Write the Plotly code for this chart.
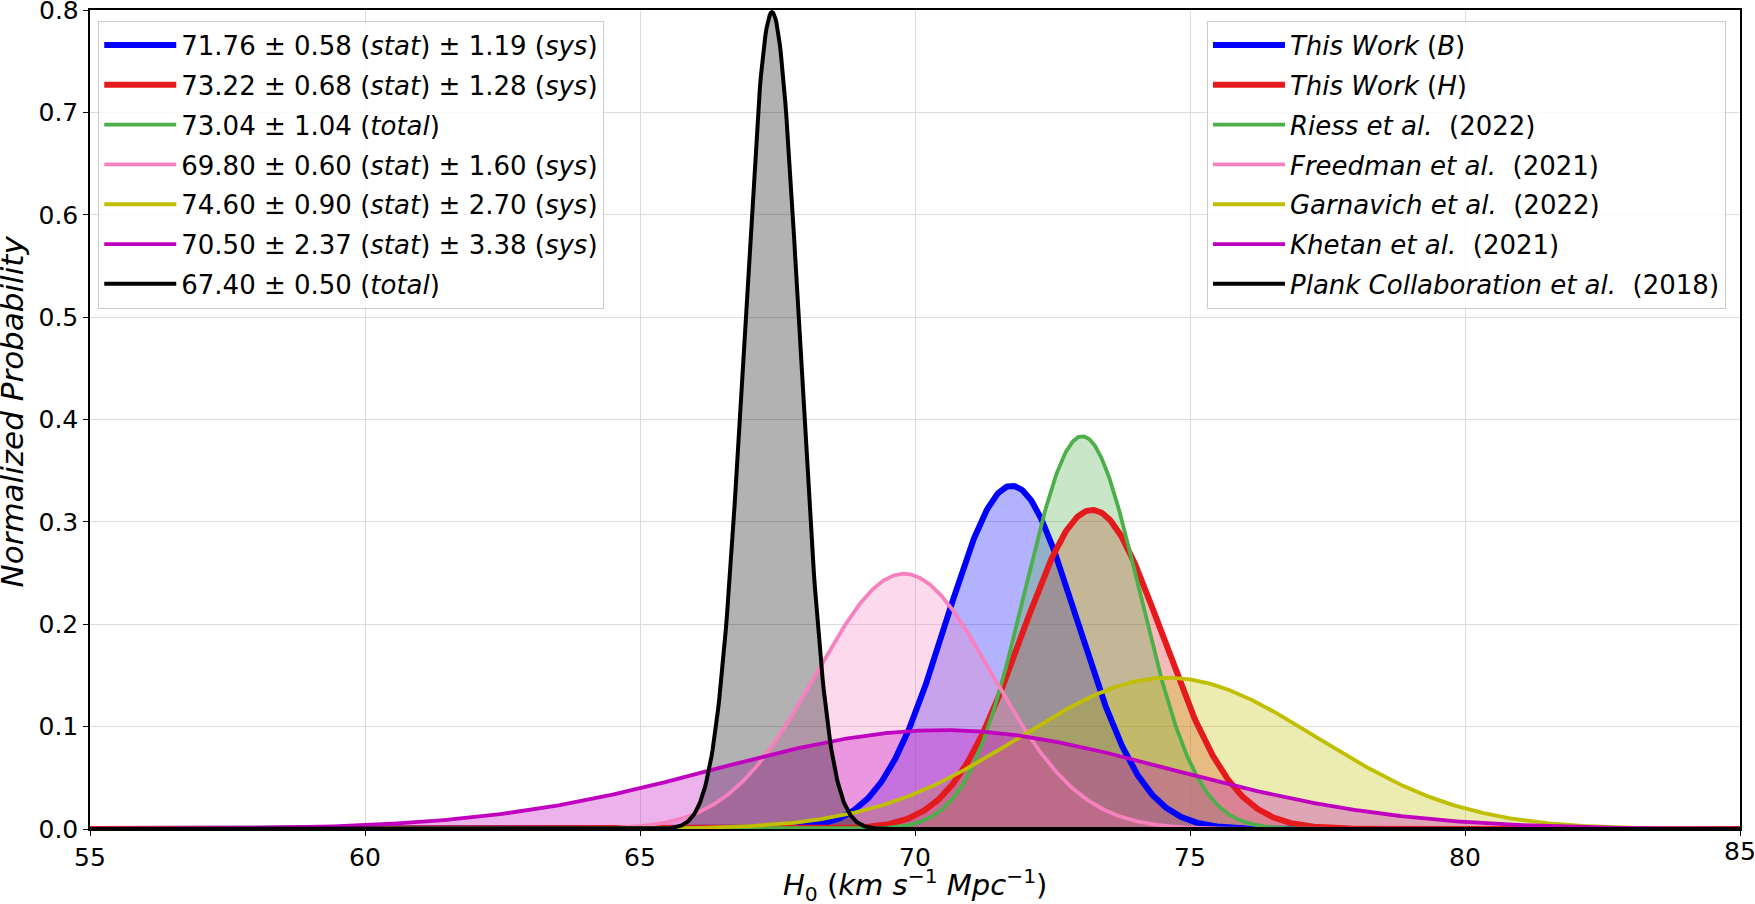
import numpy as np
import plotly.graph_objects as go

# Data
means = [71.76, 73.22, 73.04, 69.80, 74.60, 70.50, 67.40]
widths = [1.19, 1.28, 1.04, 1.60, 2.70, 4.13, 0.50]  # sigma used for each curve
value_labels = [
    "71.76 ± 0.58 (<i>stat</i>) ± 1.19 (<i>sys</i>)",
    "73.22 ± 0.68 (<i>stat</i>) ± 1.28 (<i>sys</i>)",
    "73.04 ± 1.04 (<i>total</i>)",
    "69.80 ± 0.60 (<i>stat</i>) ± 1.60 (<i>sys</i>)",
    "74.60 ± 0.90 (<i>stat</i>) ± 2.70 (<i>sys</i>)",
    "70.50 ± 2.37 (<i>stat</i>) ± 3.38 (<i>sys</i>)",
    "67.40 ± 0.50 (<i>total</i>)",
]
source_labels = [
    "<i>This Work</i> (<i>B</i>)",
    "<i>This Work</i> (<i>H</i>)",
    "<i>Riess et al.</i>  (2022)",
    "<i>Freedman et al.</i>  (2021)",
    "<i>Garnavich et al.</i>  (2022)",
    "<i>Khetan et al.</i>  (2021)",
    "<i>Plank Collaboration et al.</i>  (2018)",
]
colors = [(0, 0, 255), (228, 26, 28), (77, 175, 74), (247, 129, 191),
          (191, 191, 0), (191, 0, 191), (0, 0, 0)]
lwidths = [6, 6, 3.8, 3.8, 3.8, 3.8, 4]

x_ticks = [55, 60, 65, 70, 75, 80, 85]
y_ticks = [0.0, 0.1, 0.2, 0.3, 0.4, 0.5, 0.6, 0.7, 0.8]

xgrid = np.linspace(55, 85, 1501)
FONT = "DejaVu Sans"
FS = 26      # legend text
TK = 25      # tick labels
TT = 29      # x axis title

curves = []
for m, s in zip(means, widths):
    curves.append(np.exp(-0.5 * ((xgrid - m) / s) ** 2) / (s * np.sqrt(2 * np.pi)))

fig = go.Figure()
# fills first (below all lines)
for y, c in zip(curves, colors):
    fig.add_trace(go.Scatter(
        x=xgrid, y=y, mode="none", showlegend=False,
        fill="tozeroy", fillcolor=f"rgba({c[0]},{c[1]},{c[2]},0.3)",
        hoverinfo="skip",
    ))
# lines on top
for y, lab, c, lw in zip(curves, value_labels, colors, lwidths):
    rgb = f"rgb({c[0]},{c[1]},{c[2]})"
    fig.add_trace(go.Scatter(
        x=xgrid, y=y, mode="lines", name=lab, legend="legend",
        legendgroup=lab, line=dict(color=rgb, width=lw), hoverinfo="skip",
    ))
for lab, c, lw in zip(source_labels, colors, lwidths):
    rgb = f"rgb({c[0]},{c[1]},{c[2]})"
    fig.add_trace(go.Scatter(
        x=[None], y=[None], mode="lines", name=lab, legend="legend2",
        legendgroup=lab, line=dict(color=rgb, width=lw),
    ))

legend_common = dict(
    bgcolor="rgba(255,255,255,0.8)", bordercolor="#cccccc", borderwidth=1,
    font=dict(family=FONT, size=FS, color="black"),
    itemwidth=72, traceorder="grouped", tracegroupgap=3,
    yanchor="top", y=0.987,
)

# end labels are drawn as annotations so they are not dropped at the page edge
ytext = [f"{v:.1f}" for v in y_ticks]
ytext[-1] = ""
xtext = [str(v) for v in x_ticks]
xtext[-1] = ""

annotations = [
    dict(text=f"{y_ticks[-1]:.1f}", xref="paper", yref="y", x=0, y=y_ticks[-1],
         xanchor="right", yanchor="middle", xshift=-9, showarrow=False,
         font=dict(family=FONT, size=TK, color="black")),
    dict(text=str(x_ticks[-1]), xref="x", yref="paper", x=x_ticks[-1], y=0,
         xanchor="center", yanchor="top", yshift=-6, showarrow=False,
         font=dict(family=FONT, size=TK, color="black")),
    dict(text="<i>H</i><sub>0</sub> (<i>km s</i><sup>−1</sup> <i>Mpc</i><sup>−1</sup>)",
         xref="paper", yref="paper", x=0.5, y=0, xanchor="center", yanchor="middle",
         yshift=-56, showarrow=False, font=dict(family=FONT, size=TT, color="black")),
    dict(text="<i>Normalized Probability</i>", textangle=-90,
         xref="paper", yref="paper", x=0, y=0.5, xanchor="center", yanchor="middle",
         xshift=-79, yshift=8, showarrow=False,
         font=dict(family=FONT, size=31, color="black")),
]

fig.update_layout(
    width=1755, height=904,
    margin=dict(l=90, r=15, t=10, b=75),
    plot_bgcolor="white", paper_bgcolor="white",
    font=dict(family=FONT, size=TK, color="black"),
    showlegend=True,
    legend=dict(**legend_common, x=0.005, xanchor="left"),
    legend2=dict(**legend_common, x=0.9915, xanchor="right"),
    xaxis=dict(
        range=[55, 85], tickvals=x_ticks, ticktext=xtext,
        showgrid=True, gridcolor="#dcdcdc", gridwidth=1,
        showline=True, linecolor="black", linewidth=1.5, mirror=True,
        ticks="outside", ticklen=5, tickcolor="black", zeroline=False,
        tickfont=dict(family=FONT, size=TK), automargin=False,
    ),
    yaxis=dict(
        range=[0, 0.8], tickvals=y_ticks, ticktext=ytext,
        showgrid=True, gridcolor="#dcdcdc", gridwidth=1,
        showline=True, linecolor="black", linewidth=1.5, mirror=True,
        ticks="outside", ticklen=5, tickcolor="black", zeroline=False,
        tickfont=dict(family=FONT, size=TK), automargin=False,
    ),
    annotations=annotations,
)

fig.write_html("out.html")
